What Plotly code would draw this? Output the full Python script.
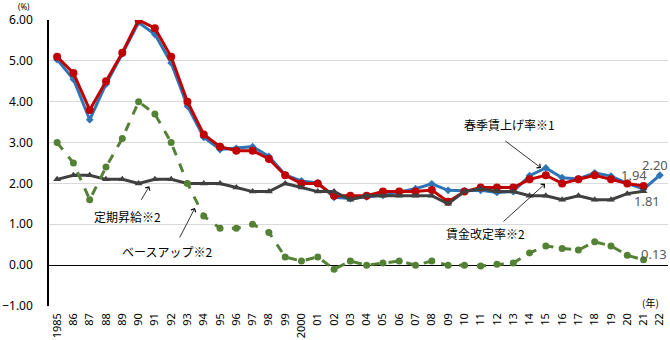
import plotly.graph_objects as go

# Fiscal years on the horizontal axis (1985-2022)
year_labels = ["1985"] + [f"{y % 100:02d}" for y in range(1986, 2000)] + ["2000"] + [f"{y % 100:02d}" for y in range(2001, 2023)]

# 春季賃上げ率 (1985-2022)
shunto = [5.03, 4.55, 3.56, 4.43, 5.17, 5.94, 5.65, 4.95, 3.89, 3.13,
          2.83, 2.86, 2.90, 2.66, 2.21, 2.06, 2.01, 1.66, 1.63, 1.67,
          1.71, 1.79, 1.87, 1.99, 1.83, 1.82, 1.83, 1.78, 1.80, 2.19,
          2.38, 2.14, 2.11, 2.26, 2.18, 2.00, 1.86, 2.20]

# 賃金改定率 (1985-2021)
revision = [5.1, 4.7, 3.8, 4.5, 5.2, 6.0, 5.8, 5.1, 4.0, 3.2,
            2.9, 2.8, 2.8, 2.6, 2.2, 2.0, 2.0, 1.7, 1.7, 1.7,
            1.8, 1.8, 1.8, 1.84, 1.55, 1.8, 1.9, 1.9, 1.9, 2.1,
            2.2, 2.0, 2.1, 2.2, 2.1, 2.0, 1.94]

# 定期昇給 (1985-2021)
regular = [2.1, 2.2, 2.2, 2.1, 2.1, 2.0, 2.1, 2.1, 2.0, 2.0,
           2.0, 1.9, 1.8, 1.8, 2.0, 1.9, 1.8, 1.8, 1.6, 1.7,
           1.7, 1.7, 1.7, 1.7, 1.5, 1.8, 1.87, 1.8, 1.8, 1.7,
           1.7, 1.6, 1.7, 1.6, 1.6, 1.75, 1.81]

# ベースアップ (1985-2021)
baseup = [3.0, 2.5, 1.6, 2.4, 3.1, 4.0, 3.7, 3.0, 2.0, 1.2,
          0.9, 0.9, 1.0, 0.8, 0.2, 0.1, 0.2, -0.1, 0.1, 0.0,
          0.05, 0.1, 0.0, 0.1, 0.0, 0.0, -0.02, 0.02, 0.05, 0.3,
          0.47, 0.41, 0.37, 0.57, 0.47, 0.24, 0.13]

FONT = "Noto Sans CJK JP"
NUM_FONT = "Noto Sans"
BLUE = "#2E75B6"
RED = "#C00000"
GRAY = "#404040"
GREEN = "#548235"

fig = go.Figure()

fig.add_trace(go.Scatter(
    x=year_labels[:len(shunto)], y=shunto, mode="lines+markers",
    line=dict(color=BLUE, width=3),
    marker=dict(symbol="diamond", size=6, color=BLUE),
    name="春季賃上げ率※1"))

fig.add_trace(go.Scatter(
    x=year_labels[:len(revision)], y=revision, mode="lines+markers",
    line=dict(color=RED, width=3),
    marker=dict(symbol="circle", size=8, color=RED),
    name="賃金改定率※2"))

fig.add_trace(go.Scatter(
    x=year_labels[:len(regular)], y=regular, mode="lines+markers",
    line=dict(color=GRAY, width=3),
    marker=dict(symbol="triangle-up", size=7, color=GRAY),
    name="定期昇給※2"))

fig.add_trace(go.Scatter(
    x=year_labels[:len(baseup)], y=baseup, mode="lines+markers",
    line=dict(color=GREEN, width=3, dash="dash"),
    marker=dict(symbol="circle", size=7, color=GREEN),
    name="ベースアップ※2"))

annotations = []

W, H = 670, 340
L, R, T, B = 45, 2, 20, 34
pw, ph = W - L - R, H - T - B


def px(xp):
    return (xp - L) / pw


def py(yp):
    return 1 - (yp - T) / ph


# series names with arrows
def label(text, xp, yp, size=12, family=FONT, yanchor="middle"):
    annotations.append(dict(text=text, x=px(xp), y=py(yp), xref="paper", yref="paper",
                            showarrow=False, font=dict(family=family, size=size, color="#000000"),
                            xanchor="center", yanchor=yanchor, borderpad=0))


def arrow(x, y, ax, ay):
    annotations.append(dict(text="", x=x, y=y, xref="x", yref="y", ax=ax, ay=ay,
                            axref="pixel", ayref="pixel", showarrow=True,
                            arrowhead=4, arrowsize=1.3, arrowwidth=0.8,
                            arrowcolor="#000000"))


label("春季賃上げ率※1", 508, 125)
label("賃金改定率※2", 484, 233)
label("定期昇給※2", 124, 216)
label("ベースアップ※2", 164, 251)

arrow(29.7, 2.38, -37, -28)
arrow(29.95, 1.99, -43, 39)
arrow(5.66, 1.93, -9, 15)
arrow(8.46, 1.40, -16, 31)

# end-of-series value labels
for text, xp, yp in [("2.20", 655, 165), ("1.94", 634, 175), ("1.81", 647, 201), ("0.13", 654, 254)]:
    annotations.append(dict(text=text, x=px(xp), y=py(yp), xref="paper", yref="paper",
                            showarrow=False, font=dict(family=NUM_FONT, size=13, color="#595959"),
                            xanchor="center", yanchor="middle"))

# unit captions
label("(%)", 20, 0, size=8, family=NUM_FONT, yanchor="top")
label("(年)", 650, 302, size=10)

fig.update_layout(
    width=W, height=H,
    margin=dict(l=L, r=R, t=T, b=B, pad=0),
    paper_bgcolor="white", plot_bgcolor="white",
    showlegend=False,
    font=dict(family=FONT, color="#000000"),
    annotations=annotations,
    xaxis=dict(type="category", categoryorder="array", categoryarray=year_labels,
               range=[-0.5, len(year_labels) - 0.5],
               tickmode="array", tickvals=year_labels, ticktext=year_labels,
               tickangle=-90, tickfont=dict(family=NUM_FONT, size=11, color="#000000"),
               showgrid=False, showline=False, zeroline=False, ticks="",
               ticklabelstandoff=4),
    yaxis=dict(range=[-1, 6], dtick=1, tick0=0, tickformat=".2f",
               tickfont=dict(family=NUM_FONT, size=12, color="#000000"),
               showgrid=True, gridcolor="#d9d9d9", gridwidth=1,
               zeroline=True, zerolinecolor="#000000", zerolinewidth=1,
               showline=True, linecolor="#000000", linewidth=1.5,
               ticks="", ticklabelstandoff=12),
)

fig.write_html("out.html")
